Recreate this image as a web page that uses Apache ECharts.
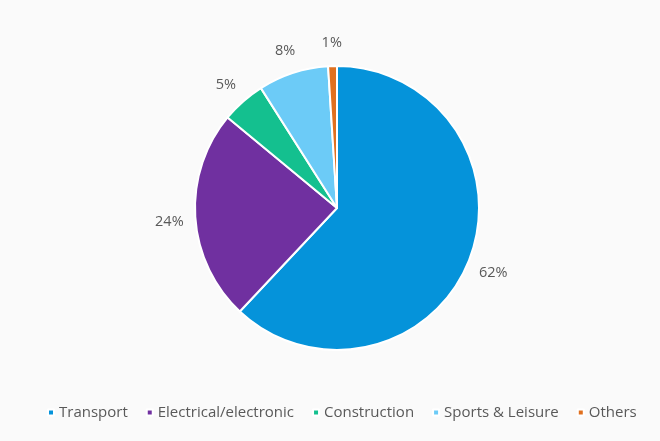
<!DOCTYPE html>
<html>
<head>
<meta charset="utf-8">
<script src="https://cdn.jsdelivr.net/npm/echarts@6/dist/echarts.min.js"></script>
<style>
  html, body { margin: 0; padding: 0; background: #fafafa; }
  #chart { width: 660px; height: 441px; }
</style>
</head>
<body>
<div id="chart"></div>
<script>
var categories = ['Transport', 'Electrical/electronic', 'Construction', 'Sports & Leisure', 'Others'];
var shares = [62, 24, 5, 8, 1];
var colors = ['#0593da', '#7030a0', '#14c08f', '#6ccbf7', '#e0701f'];

var dom = document.getElementById('chart');
var myChart = echarts.init(dom);

var pieData = categories.map(function (c, i) {
    return { name: c, value: shares[i] };
});

var option = {
    backgroundColor: '#fafafa',
    color: colors,
    textStyle: { fontFamily: 'Open Sans' },
    legend: {
        bottom: 16,
        left: 42,
        itemWidth: 6,
        itemHeight: 6,
        itemGap: 18,
        icon: 'rect',
        textStyle: { color: '#595959', fontSize: 15, fontFamily: 'Open Sans' },
        data: categories
    },
    series: [
        {
            type: 'pie',
            center: [337, 208],
            radius: [0, 142],
            startAngle: 90,
            clockwise: true,
            itemStyle: { borderColor: '#ffffff', borderWidth: 2 },
            label: { show: false },
            labelLine: { show: false },
            emphasis: { disabled: true },
            data: pieData
        },
        {
            // transparent ring used only to place the percentage labels
            type: 'pie',
            center: [337, 211],
            radius: [142, 188],
            startAngle: 90,
            clockwise: true,
            silent: true,
            itemStyle: { color: 'rgba(0,0,0,0)' },
            label: {
                show: true,
                position: 'inside',
                formatter: '{c}%',
                color: '#595959',
                fontSize: 14.5,
                fontFamily: 'Open Sans'
            },
            labelLine: { show: false },
            emphasis: { disabled: true },
            data: pieData
        }
    ]
};
if (option && typeof option === "object") {
    myChart.setOption(option, true);
}
</script>
</body>
</html>
